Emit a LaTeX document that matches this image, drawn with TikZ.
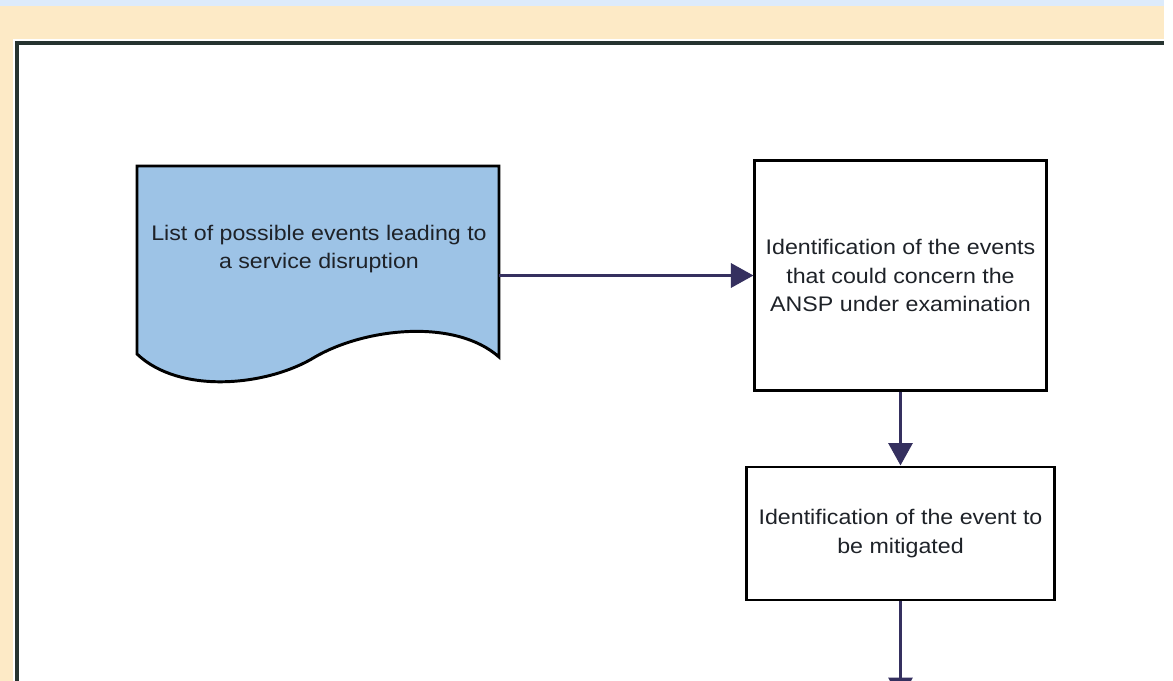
\documentclass[tikz,border=0pt]{standalone}
\usepackage{fontspec}
\setmainfont{Liberation Sans}
\newfontfamily\widesans[FakeStretch=1.1]{Liberation Sans}
\usepackage{xcolor}
\usetikzlibrary{arrows.meta,positioning,calc}

\definecolor{docblue}{HTML}{9DC3E6}
\definecolor{flowink}{HTML}{35305F}
\definecolor{bandcream}{HTML}{FDEAC6}
\definecolor{bandsky}{HTML}{DDEBFB}
\definecolor{frameink}{HTML}{263330}
\definecolor{textink}{HTML}{1E2228}

\begin{document}
\begin{tikzpicture}[x=0.025cm, y=-0.025cm,
    every node/.style={font=\widesans\fontsize{15pt}{20.5pt}\selectfont, text=textink},
    stepbox/.style={draw=black, line width=2.1pt, fill=white, align=center, inner sep=0pt},
    flow/.style={draw=flowink, line width=2.5pt, -{Triangle[length=16pt, width=17pt]}}]
        \useasboundingbox (0,0) rectangle (1173,681);
        % Page background and frame
        \fill[white] (0,0) rectangle (1173,681);
        \fill[bandsky] (0,0) rectangle (1164,6);
        \fill[bandcream] (0,6) rectangle (1164,39);
        \fill[bandcream] (0,39) rectangle (13,681);
        \draw[frameink, line width=2.85pt] (17,700) -- (17,43) -- (1164,43);

        % Document shape: list of events
        \draw[fill=docblue, line width=2.1pt] (137,166) -- (499,166) -- (499,357)
            .. controls (455,318) and (365,328) .. (315,357)
            .. controls (268,386) and (180,395) .. (137,354) -- cycle;
        \node[minimum width=9.05cm, minimum height=4.78cm, inner sep=0pt] (doc) at (318,262) {};
        \node[align=center] (doctext) at (319,249) {List of possible events leading to\\a service disruption};

        % Process boxes
        \node[stepbox, minimum width=7.275cm, minimum height=5.725cm] (ident) at (900.5,275.5)
            {Identification of the events\\that could concern the\\ANSP under examination};
        \node[stepbox, minimum width=7.675cm, minimum height=3.325cm] (mitig) at (900.5,533.5)
            {Identification of the event to\\be mitigated};
        \coordinate (next) at (900.5,700);

        % Connectors
        \draw[flow] (doc.east |- ident.west) -- (ident.west);
        \draw[flow] (ident.south) -- (mitig.north);
        \draw[flow] (mitig.south) -- (next);
\end{tikzpicture}
\end{document}
